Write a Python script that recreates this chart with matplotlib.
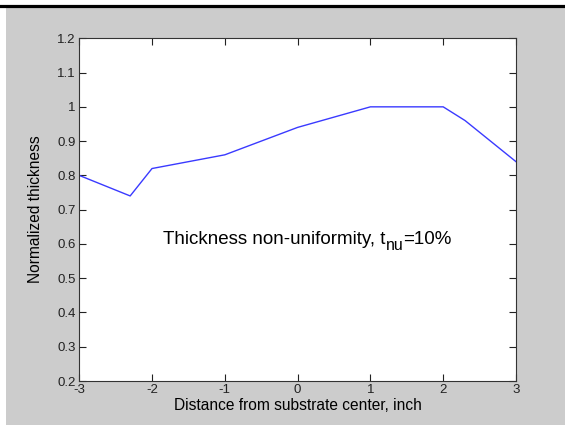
import matplotlib
matplotlib.use("Agg")
import matplotlib.pyplot as plt
from matplotlib.patches import Rectangle
from matplotlib.lines import Line2D

plt.rcParams['font.family'] = ['Liberation Sans', 'DejaVu Sans']
plt.rcParams['axes.unicode_minus'] = False

# distance from substrate center (inch) and normalized thickness
distance = [-3, -2.3, -2, -1, 0, 1, 2, 2.3, 3]
thickness = [0.80, 0.74, 0.82, 0.86, 0.94, 1.00, 1.00, 0.96, 0.84]
xticks = [-3, -2, -1, 0, 1, 2, 3]
yticks = [0.2, 0.3, 0.4, 0.5, 0.6, 0.7, 0.8, 0.9, 1, 1.1, 1.2]
ytick_labels = ['0.2', '0.3', '0.4', '0.5', '0.6', '0.7', '0.8', '0.9', '1', '1.1', '1.2']

fig = plt.figure(figsize=(5.65, 4.25), dpi=100, facecolor='white')

# matlab-ish grey figure panel and the black rule above it
fig.patches.append(Rectangle((6 / 565, 0), 1, 1 - 7.5 / 425, transform=fig.transFigure,
                             facecolor='#cccccc', edgecolor='none', zorder=0))
fig.lines.append(Line2D([0, 1], [1 - 5.5 / 425, 1 - 5.5 / 425], transform=fig.transFigure,
                        color='black', linewidth=2.3, zorder=1))

ax = fig.add_axes([79.2 / 565, 1 - 381 / 425, (516 - 79.2) / 565, (381 - 38.3) / 425])
ax.set_zorder(5)
ax.set_facecolor('white')
ax.plot(distance, thickness, color='#3a3aff', linewidth=1.0)

ax.set_xlim(-3, 3)
ax.set_ylim(0.2, 1.2)
ax.set_xticks(xticks)
ax.set_yticks(yticks)
ax.set_yticklabels(ytick_labels)
ax.tick_params(direction='in', length=5, width=0.8, top=True, right=True,
               labelsize=9.5, colors='#222222', pad=2.5)
for s in ax.spines.values():
    s.set_linewidth(0.8)
    s.set_color('#333333')

ax.set_xlabel('Distance from substrate center, inch', fontsize=11.2, labelpad=1)
ax.set_ylabel('Normalized thickness', fontsize=11.2, labelpad=10)

# annotation with a full-ish size subscript like the matlab one
t1 = ax.text(-1.85, 0.6, 'Thickness non-uniformity, t', fontsize=13.5,
             va='baseline', ha='left')
t2 = ax.annotate('nu', xy=(1, 0.6), xycoords=(t1, 'data'), xytext=(0.3, -4.5),
                 textcoords='offset points', fontsize=11.5, va='baseline', ha='left')
t3 = ax.annotate('=10%', xy=(1, 0.6), xycoords=(t2, 'data'), xytext=(-0.5, 0),
                 textcoords='offset points', fontsize=13.5, va='baseline', ha='left')

fig.savefig('out.png', dpi=100, facecolor=fig.get_facecolor())
